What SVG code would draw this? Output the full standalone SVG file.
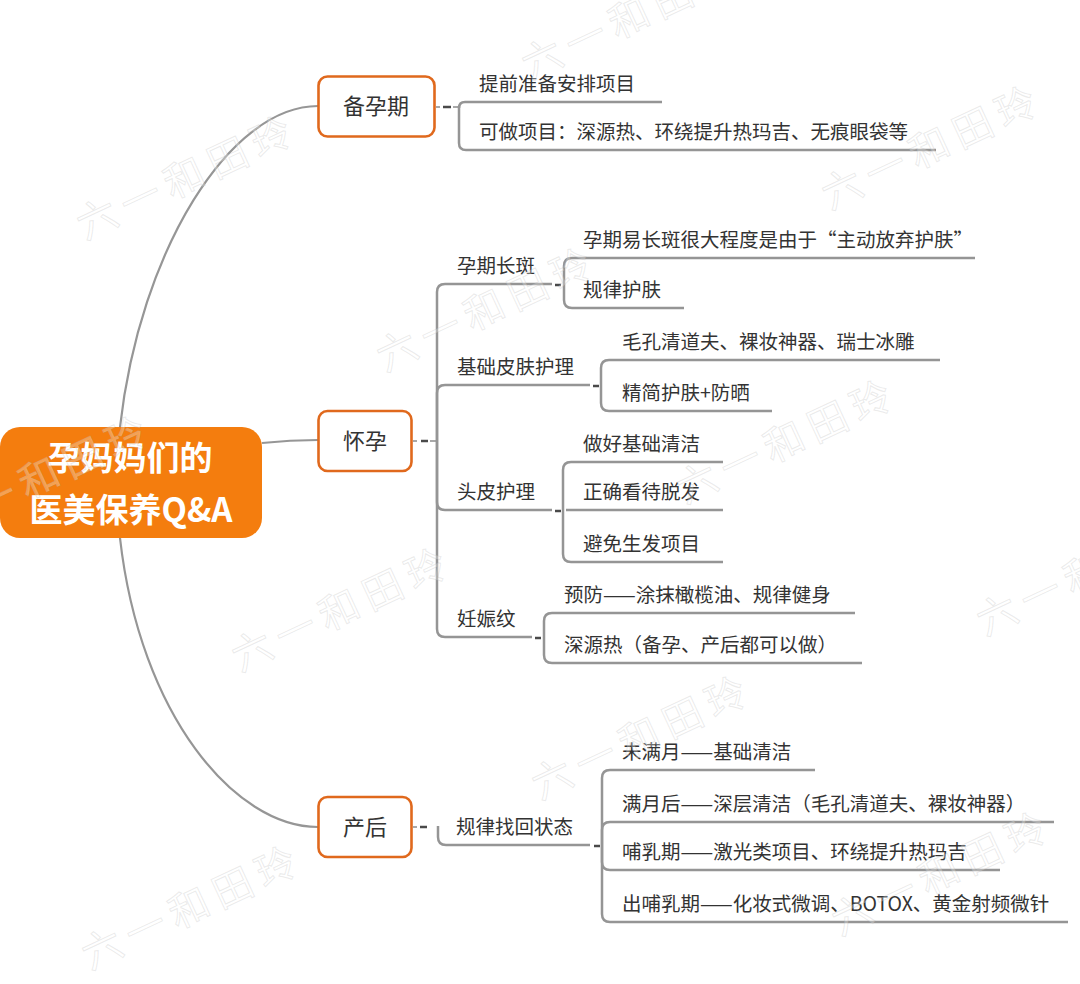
<svg xmlns="http://www.w3.org/2000/svg" width="1080" height="984" viewBox="0 0 1080 984">
<style>
.ln{fill:none;stroke:#959595;stroke-width:2.5;stroke-linecap:butt}
.cv{fill:none;stroke:#969696;stroke-width:2.2}
.dash{fill:none;stroke:#4a4a4a;stroke-width:2.5}
.stub{fill:none;stroke:#a8a8a8;stroke-width:2}
.box{fill:#fff;stroke:#E0691D;stroke-width:2.6}
.t{font-family:"Noto Sans CJK SC","Noto Sans",sans-serif;font-size:19.5px;fill:#333}
.bt{font-family:"Noto Sans CJK SC","Noto Sans",sans-serif;font-size:22px;fill:#333;text-anchor:middle}
.rt{font-family:"Noto Sans CJK SC","Noto Sans",sans-serif;font-size:33px;font-weight:700;fill:#fff;text-anchor:middle}
.wm{font-family:"Noto Sans CJK SC",sans-serif;font-size:40px;letter-spacing:8px;fill:#fff;fill-opacity:0.3;stroke:#b0b0b0;stroke-opacity:0.26;stroke-width:1}
</style>
<rect width="1080" height="984" fill="#fff"/>

<g id="connectors">
  <path class="cv" d="M120,427 C140,250 230,106 318,106"/>
  <path class="cv" d="M262,443 Q290,440 318,440"/>
  <path class="cv" d="M120,538 C140,715 235,827 318,827"/>
  <!-- 备孕期 -->
  <path class="stub" d="M436,107 H440 M453,107 H458"/>
  <path class="dash" d="M443,107 H451"/>
  <path class="ln" d="M459,108 Q459,102 465,102 H662"/>
  <path class="ln" d="M459,106 V143 Q459,150 466,150 H936"/>
  <!-- 怀孕 -->
  <path class="stub" d="M413,441 H417 M430,441 H436"/>
  <path class="dash" d="M421,441 H428"/>
  <path class="ln" d="M437,441 V292 Q437,284 445,284 H552"/>
  <path class="ln" d="M437,441 V393 Q437,385 445,385 H590"/>
  <path class="ln" d="M437,441 V502 Q437,510 445,510 H552"/>
  <path class="ln" d="M437,441 V629 Q437,637 445,637 H532"/>
  <!-- 孕期长斑 -->
  <path class="dash" d="M555,285 H561"/>
  <path class="ln" d="M564,284 V266 Q564,258 572,258 H975"/>
  <path class="ln" d="M564,284 V300 Q564,308 572,308 H684"/>
  <!-- 基础皮肤护理 -->
  <path class="dash" d="M593,386 H599"/>
  <path class="ln" d="M601,385 V368 Q601,360 609,360 H940"/>
  <path class="ln" d="M601,385 V403 Q601,411 609,411 H772"/>
  <!-- 头皮护理 -->
  <path class="dash" d="M555,511 H561"/>
  <path class="ln" d="M563,510 V470 Q563,462 571,462 H723"/>
  <path class="ln" d="M566,510 H723"/>
  <path class="ln" d="M563,510 V554 Q563,562 571,562 H723"/>
  <!-- 妊娠纹 -->
  <path class="dash" d="M535,638 H541"/>
  <path class="ln" d="M544,637 V621 Q544,613 552,613 H855"/>
  <path class="ln" d="M544,637 V655 Q544,663 552,663 H862"/>
  <!-- 产后 -->
  <path class="stub" d="M413,827 H417"/>
  <path class="dash" d="M420,827 H427"/>
  <path class="ln" d="M438,826 V837 Q438,845 446,845 H590"/>
  <path class="dash" d="M594,846 H600"/>
  <path class="ln" d="M602,845 V778 Q602,770 610,770 H815"/>
  <path class="ln" d="M602,845 V830 Q602,822 610,822 H1054"/>
  <path class="ln" d="M602,845 V862 Q602,870 610,870 H1000"/>
  <path class="ln" d="M602,845 V914 Q602,922 610,922 H1068"/>
</g>

<g id="root">
  <rect x="0" y="427" width="262" height="111" rx="20" fill="#F47D0E"/>
  <text class="rt" x="130" y="470">孕妈妈们的</text>
  <text class="rt" x="131" y="522">医美保养Q&amp;A</text>
</g>

<g id="n-beiyun">
  <rect class="box" x="318.5" y="76.5" width="116" height="60" rx="9"/>
  <text class="bt" x="376" y="114">备孕期</text>
</g>
<g id="n-beiyun-1"><text class="t" x="479" y="91">提前准备安排项目</text></g>
<g id="n-beiyun-2"><text class="t" x="479" y="139">可做项目：深源热、环绕提升热玛吉、无痕眼袋等</text></g>

<g id="n-huaiyun">
  <rect class="box" x="318.5" y="411" width="93" height="60" rx="9"/>
  <text class="bt" x="365" y="449">怀孕</text>
</g>
<g id="n-yqcb"><text class="t" x="457" y="273">孕期长斑</text></g>
<g id="n-yqcb-1"><text class="t" x="583" y="247">孕期易长斑很大程度是由于“主动放弃护肤”</text></g>
<g id="n-yqcb-2"><text class="t" x="583" y="297">规律护肤</text></g>
<g id="n-jcpf"><text class="t" x="457" y="374">基础皮肤护理</text></g>
<g id="n-jcpf-1"><text class="t" x="622" y="349">毛孔清道夫、裸妆神器、瑞士冰雕</text></g>
<g id="n-jcpf-2"><text class="t" x="622" y="400">精简护肤+防晒</text></g>
<g id="n-tphl"><text class="t" x="457" y="499">头皮护理</text></g>
<g id="n-tphl-1"><text class="t" x="583" y="451">做好基础清洁</text></g>
<g id="n-tphl-2"><text class="t" x="583" y="499">正确看待脱发</text></g>
<g id="n-tphl-3"><text class="t" x="583" y="551">避免生发项目</text></g>
<g id="n-rsw"><text class="t" x="457" y="626">妊娠纹</text></g>
<g id="n-rsw-1"><text class="t" x="564" y="602">预防——涂抹橄榄油、规律健身</text></g>
<g id="n-rsw-2"><text class="t" x="564" y="652">深源热（备孕、产后都可以做）</text></g>

<g id="n-chanhou">
  <rect class="box" x="318.5" y="797" width="93" height="60" rx="9"/>
  <text class="bt" x="365" y="835">产后</text>
</g>
<g id="n-glzh"><text class="t" x="456" y="834">规律找回状态</text></g>
<g id="n-glzh-1"><text class="t" x="622" y="759">未满月——基础清洁</text></g>
<g id="n-glzh-2"><text class="t" x="622" y="811">满月后——深层清洁（毛孔清道夫、裸妆神器）</text></g>
<g id="n-glzh-3"><text class="t" x="622" y="859">哺乳期——激光类项目、环绕提升热玛吉</text></g>
<g id="n-glzh-4"><text class="t" x="622" y="911">出哺乳期——化妆式微调、BOTOX、黄金射频微针</text></g>

<g id="watermark">
  <text class="wm" transform="translate(85,240) rotate(-25)">六一和田玲</text>
  <text class="wm" transform="translate(385,372) rotate(-25)">六一和田玲</text>
  <text class="wm" transform="translate(685,504) rotate(-25)">六一和田玲</text>
  <text class="wm" transform="translate(985,636) rotate(-25)">六一和田玲</text>
  <text class="wm" transform="translate(530,80) rotate(-25)">六一和田玲</text>
  <text class="wm" transform="translate(830,210) rotate(-25)">六一和田玲</text>
  <text class="wm" transform="translate(240,672) rotate(-25)">六一和田玲</text>
  <text class="wm" transform="translate(540,800) rotate(-25)">六一和田玲</text>
  <text class="wm" transform="translate(840,936) rotate(-25)">六一和田玲</text>
  <text class="wm" transform="translate(-60,540) rotate(-25)">六一和田玲</text>
  <text class="wm" transform="translate(90,970) rotate(-25)">六一和田玲</text>
  <text class="wm" transform="translate(-205,840) rotate(-25)">六一和田玲</text>
</g>
</svg>
